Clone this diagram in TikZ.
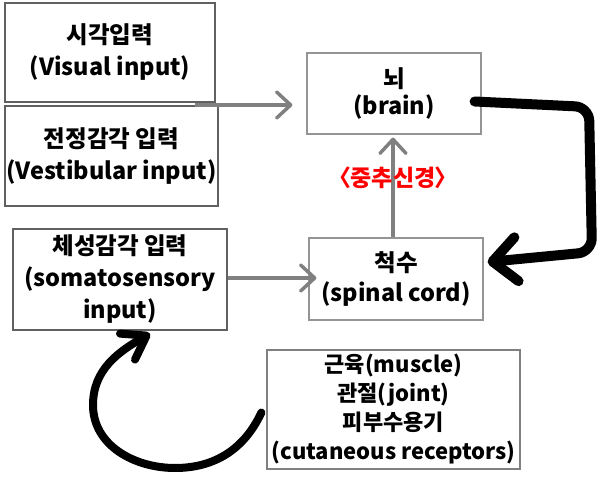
\documentclass[tikz,border=0pt]{standalone}
\usepackage{fontspec}
\newfontfamily\kr{Noto Sans CJK KR Black}
\usetikzlibrary{arrows.meta}
\tikzset{
  box/.style={draw=#1, line width=1.2pt, inner sep=0pt, align=center,
    font=\kr\fontsize{23.5}{32}\selectfont},
  box/.default={black!62},
  grayarrow/.style={draw=black!50, line width=3.5pt,
    -{Straight Barb[length=14pt,width=26pt,line cap=round,line join=round]}},
  blackarrow/.style={draw=black, line width=10pt, line cap=round, line join=round},
}
\begin{document}
\begin{tikzpicture}[x=1pt,y=-1pt]
\useasboundingbox (0,0) rectangle (611,486);
\node[box, minimum width=210pt, minimum height=99pt] (visual) at (110,52.5) {시각입력\\(Visual input)};
\node[box, minimum width=213pt, minimum height=100pt] (vest) at (111.5,156) {전정감각 입력\\(Vestibular input)};
\node[box, minimum width=214pt, minimum height=101pt] (soma) at (120,279.5) {체성감각 입력\\(somatosensory\\input)};
\node[box=black!42, minimum width=174pt, minimum height=81pt,
  font=\kr\fontsize{23.5}{27}\selectfont] (brain) at (394,93.5) {뇌\\(brain)};
\node[box=black!42, minimum width=174pt, minimum height=82pt,
  font=\kr\fontsize{23.5}{30}\selectfont] (spinal) at (396,279) {척수\\(spinal cord)};
\node[box=black!50, minimum width=253pt, minimum height=119pt,
  font=\kr\fontsize{22}{29}\selectfont] (recep) at (393.5,409.5)
  {근육(muscle)\\관절(joint)\\피부수용기\\(cutaneous receptors)};
\coordinate (g1) at (195,105);
\draw[grayarrow, shorten >=14pt] (g1) -- (g1 -| brain.west);
\draw[grayarrow, shorten >=-8pt] (soma.east |- 0,278) -- (spinal.west |- 0,278);
\draw[grayarrow, shorten >=3pt] ([xshift=-3pt]spinal.north) -- ([xshift=-3pt]spinal.north |- brain.south);
\node[text=red, font=\kr\fontsize{23}{25}\selectfont\addfontfeature{RawFeature=+palt}] (cns) at (393,178) {〈중추신경〉};
\draw[blackarrow, rounded corners=14pt,
  -{Straight Barb[length=24pt,width=44pt,line cap=round,line join=round]}]
  ([shift={(-7,8)}]brain.east) -- (589,107) -- (592,252) -- ([shift={(4,-17)}]spinal.east);
\draw[blackarrow, line width=8pt,
  -{Straight Barb[length=22pt,width=30pt,line cap=round,line join=round]}]
  ([shift={(-5,3)}]recep.west) to[out=245,in=0] (175,468) to[out=180,in=270] (93,405)
  to[out=90,in=210] ([shift={(30,3)}]soma.south);
\end{tikzpicture}
\end{document}
